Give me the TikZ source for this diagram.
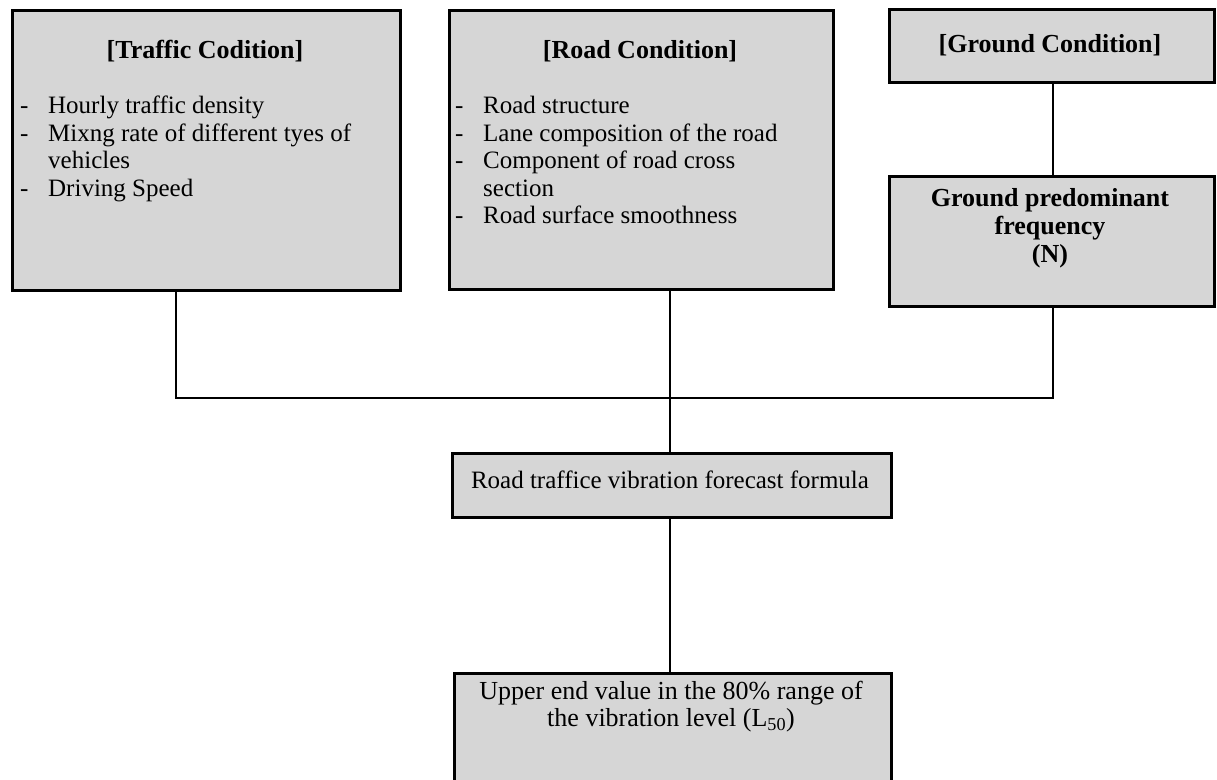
\documentclass[tikz,border=0pt]{standalone}
\usepackage{fontspec}
\setmainfont{Liberation Serif}
\begin{document}
\begin{tikzpicture}[x=1pt,y=-1pt]
\tikzset{
  panel/.style={draw, line width=2.8pt, fill=black!16, inner sep=0pt, anchor=north west},
  link/.style={line width=2.8pt},
  head/.style={font=\fontsize{26}{28}\selectfont\bfseries, inner sep=0pt, align=center},
  body/.style={font=\fontsize{25}{27.5}\selectfont, inner sep=0pt, align=left, anchor=north west},
  plain/.style={font=\fontsize{25}{27}\selectfont, inner sep=0pt, align=center},
}
\newcommand{\dashitem}{\makebox[28pt][l]{-}}
\newcommand{\hangitem}{\hspace*{28pt}}
\useasboundingbox (0,0) rectangle (1217,779);

% boxes
\node[panel, minimum width=388pt, minimum height=280pt] (traffic) at (11,9) {};
\node[panel, minimum width=384pt, minimum height=279pt] (road) at (448,9) {};
\node[panel, minimum width=325pt, minimum height=73pt] (ground) at (888,8) {};
\node[panel, minimum width=325pt, minimum height=130pt] (freq) at (888,175) {};
\node[panel, minimum width=439pt, minimum height=64pt] (formula) at (451,452) {};
\node[panel, minimum width=437pt, minimum height=110pt] (level) at (453,672) {};

% texts
\node[head] (trafficT) at (205,51) {[Traffic Codition]};
\node[body] (trafficB) at (20,96) {\dashitem Hourly traffic density\\
  \dashitem Mixng rate of different tyes of\\
  \hangitem vehicles\\
  \dashitem Driving Speed};
\node[head] (roadT) at (640,51) {[Road Condition]};
\node[body] (roadB) at (455,96) {\dashitem Road structure\\
  \dashitem Lane composition of the road\\
  \dashitem Component of road cross\\
  \hangitem section\\
  \dashitem Road surface smoothness};
\node[head] (groundT) at (1050,45) {[Ground Condition]};
\node[head] (freqT) at (1050,228) {Ground predominant\\frequency\\(N)};
\node[plain] (formulaT) at (670,480) {Road traffice vibration forecast formula};
\node[plain, font=\fontsize{26}{27}\selectfont] (levelT) at (671,707) {Upper end value in the 80\% range of\\the vibration level (L\textsubscript{50})};

% junction points of the connector tree
\coordinate (jl) at (176,398);
\coordinate (jm) at (670,398);
\coordinate (jr) at (1053,398);

% connectors
\draw[link] (ground.south -| jr) -- (freq.north -| jr);
\draw[link] (traffic.south -| jl) -- (jl) -- (jr) -- (freq.south -| jr);
\draw[link] (road.south -| jm) -- (formula.north -| jm);
\draw[link] (formula.south -| jm) -- (level.north -| jm);
\end{tikzpicture}
\end{document}
